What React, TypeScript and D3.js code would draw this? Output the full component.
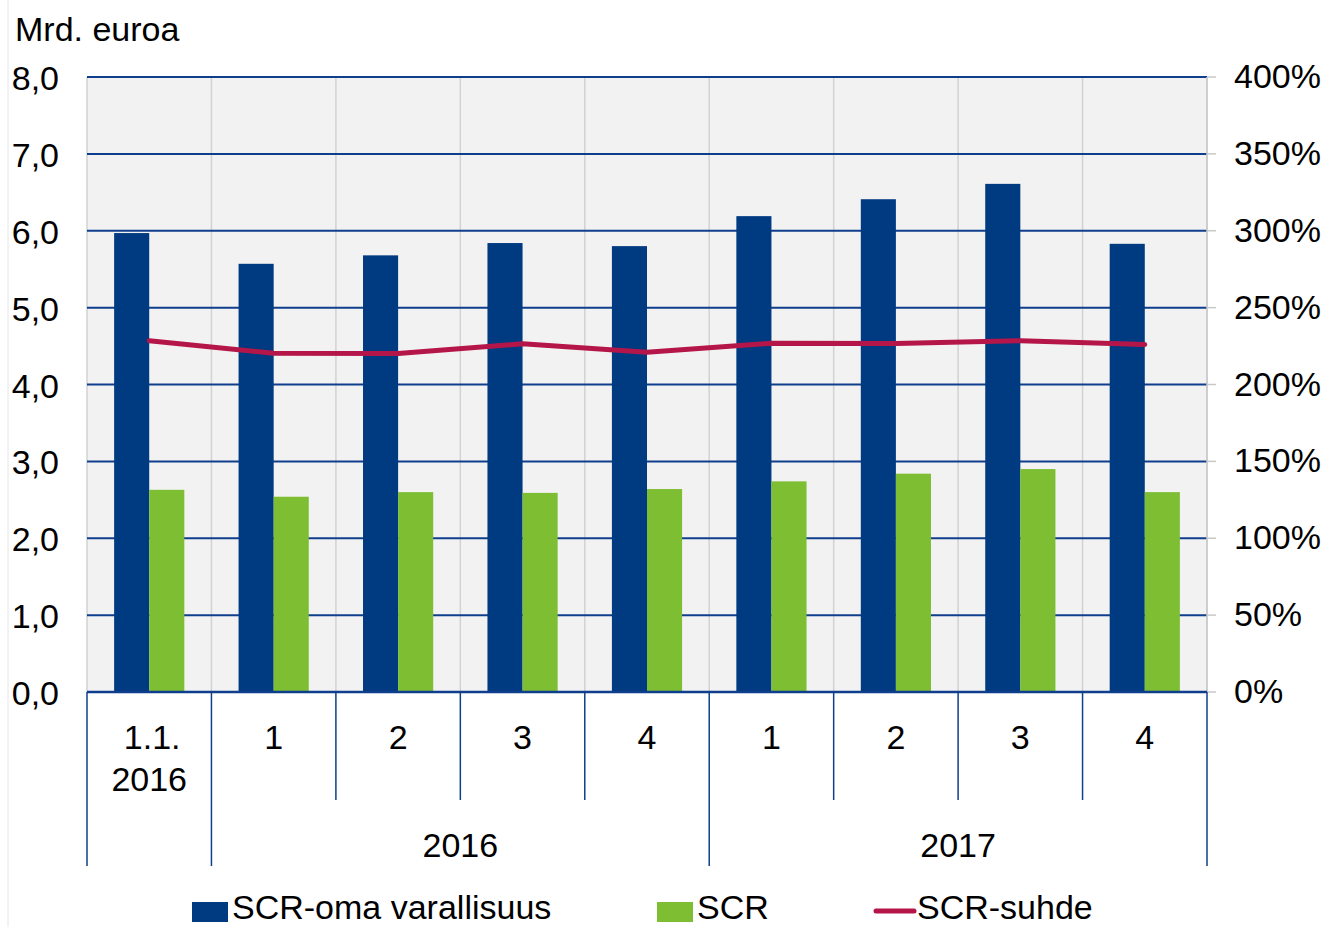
import React from "react";
import * as d3 from "d3";

const categories = ["1.1.\n2016", "1", "2", "3", "4", "1", "2", "3", "4"];
const groups = [
  { label: "", start: 0, end: 1 },
  { label: "2016", start: 1, end: 5 },
  { label: "2017", start: 5, end: 9 },
];
const ownFunds = [5.97, 5.57, 5.68, 5.84, 5.8, 6.19, 6.41, 6.61, 5.83];
const scr = [2.63, 2.54, 2.6, 2.59, 2.64, 2.74, 2.84, 2.9, 2.6];
const ratio = [228.5, 220.3, 220.2, 226.5, 221, 226.8, 226.7, 228.5, 226];
const leftTicks = [0, 1, 2, 3, 4, 5, 6, 7, 8];
const rightTicks = [0, 50, 100, 150, 200, 250, 300, 350, 400];
const seriesNames = ["SCR-oma varallisuus", "SCR", "SCR-suhde"];

const W = 1327;
const H = 927;
const left = 87;
const right = 1207;
const top = 77;
const bottom = 692;

const BLUE = "#003a80";
const GREEN = "#7dbe32";
const RED = "#b5164a";
const GRID = "#0f3f8c";
const FONT = "'Liberation Sans', Arial, sans-serif";

export default function App() {
  const x = d3.scaleBand<number>().domain(d3.range(categories.length)).range([left, right]).padding(0);
  const y = d3.scaleLinear().domain([0, 8]).range([bottom, top]);
  const y2 = d3.scaleLinear().domain([0, 400]).range([bottom, top]);
  const bw = x.bandwidth();
  const barW = bw * 0.282;
  const line = d3
    .line<number>()
    .x((_, i) => (x(i) as number) + bw / 2)
    .y((d) => y2(d));
  const fmt = (v: number) => v.toFixed(1).replace(".", ",");
  const legendY = 919;

  return (
    <svg
      width={W}
      height={H}
      style={{ position: "absolute", left: 0, top: 0, background: "#fff" }}
      fontFamily={FONT}
    >
      <line x1={8} x2={8} y1={0} y2={H} stroke="#e6e6e6" strokeWidth={1} />
      <rect x={left} y={top} width={right - left} height={bottom - top} fill="#f2f2f2" />
      {d3.range(categories.length + 1).map((i) => {
        const xx = i < categories.length ? (x(i) as number) : right;
        return <line key={"vg" + i} x1={xx} x2={xx} y1={top} y2={bottom} stroke="#d2d2d2" strokeWidth={1.5} />;
      })}
      {leftTicks.map((t) => (
        <line key={"hg" + t} x1={left} x2={right} y1={y(t)} y2={y(t)} stroke={GRID} strokeWidth={2} />
      ))}
      {rightTicks.map((t) => (
        <line key={"rt" + t} x1={right} x2={right + 9} y1={y2(t)} y2={y2(t)} stroke="#c8c8c8" strokeWidth={1.5} />
      ))}
      <line x1={right} x2={right} y1={top} y2={bottom} stroke="#c8c8c8" strokeWidth={1.5} />
      {ownFunds.map((v, i) => (
        <rect
          key={"b" + i}
          x={(x(i) as number) + bw / 2 - barW}
          y={y(v)}
          width={barW}
          height={bottom - y(v)}
          fill={BLUE}
        />
      ))}
      {scr.map((v, i) => (
        <rect
          key={"g" + i}
          x={(x(i) as number) + bw / 2}
          y={y(v)}
          width={barW}
          height={bottom - y(v)}
          fill={GREEN}
        />
      ))}
      <path d={line(ratio) || ""} fill="none" stroke={RED} strokeWidth={5} strokeLinecap="round" strokeLinejoin="round" />
      <line x1={left} x2={right} y1={bottom} y2={bottom} stroke={GRID} strokeWidth={2.5} />
      {d3.range(categories.length + 1).map((i) => {
        const xx = i < categories.length ? (x(i) as number) : right;
        const isGroup = groups.some((g) => g.start === i || g.end === i);
        return (
          <line key={"sep" + i} x1={xx} x2={xx} y1={bottom} y2={isGroup ? 866 : 800} stroke={GRID} strokeWidth={1.5} />
        );
      })}
      {categories.map((c, i) => {
        const parts = c.split("\n");
        return (
          <text key={"c" + i} x={(x(i) as number) + bw / 2} textAnchor="middle" fontSize={34} fill="#000">
            {parts.map((p, j) => (
              <tspan key={j} x={(x(i) as number) + bw / 2 + (j === 0 && parts.length > 1 ? 3 : 0)} y={749 + j * 42}>
                {p}
              </tspan>
            ))}
          </text>
        );
      })}
      {groups.map((g, i) =>
        g.label ? (
          <text
            key={"gr" + i}
            x={((x(g.start) as number) + (g.end < categories.length ? (x(g.end) as number) : right)) / 2}
            y={857}
            textAnchor="middle"
            fontSize={34}
          >
            {g.label}
          </text>
        ) : null
      )}
      {leftTicks.map((t) => (
        <text key={"lt" + t} x={59} y={y(t) + 13} textAnchor="end" fontSize={34}>
          {fmt(t)}
        </text>
      ))}
      {rightTicks.map((t) => (
        <text key={"rl" + t} x={1234} y={y2(t) + 11} textAnchor="start" fontSize={34}>
          {t + "%"}
        </text>
      ))}
      <text x={15} y={41} fontSize={34}>
        Mrd. euroa
      </text>
      <rect x={192} y={902} width={36} height={20} fill={BLUE} />
      <text x={232} y={legendY} fontSize={34}>
        {seriesNames[0]}
      </text>
      <rect x={657} y={902} width={36} height={20} fill={GREEN} />
      <text x={697} y={legendY} fontSize={34}>
        {seriesNames[1]}
      </text>
      <line x1={876} x2={914} y1={911} y2={911} stroke={RED} strokeWidth={5} strokeLinecap="round" />
      <text x={917} y={legendY} fontSize={34}>
        {seriesNames[2]}
      </text>
    </svg>
  );
}
